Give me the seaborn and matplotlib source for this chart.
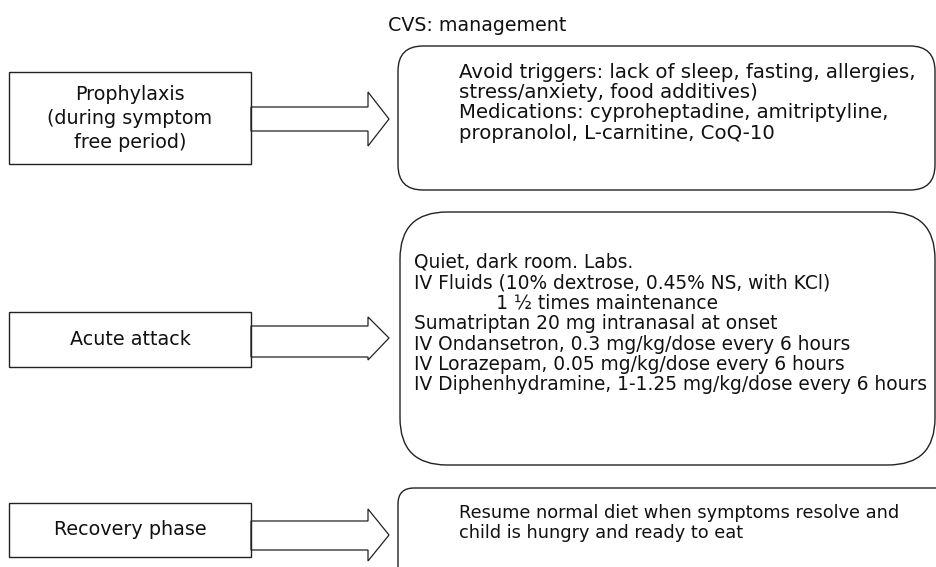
import matplotlib
matplotlib.use("Agg")
import matplotlib.pyplot as plt
from matplotlib.patches import FancyBboxPatch, Rectangle, Polygon
import seaborn as sns

# Chart content
title = "CVS: management"
phases = [
    ["Prophylaxis", "(during symptom", "free period)"],
    ["Acute attack"],
    ["Recovery phase"],
]
details = [
    ["Avoid triggers: lack of sleep, fasting, allergies,",
     "stress/anxiety, food additives)",
     "Medications: cyproheptadine, amitriptyline,",
     "propranolol, L-carnitine, CoQ-10"],
    ["Quiet, dark room. Labs.",
     "IV Fluids (10% dextrose, 0.45% NS, with KCl)",
     "              1 \u00bd times maintenance",
     "Sumatriptan 20 mg intranasal at onset",
     "IV Ondansetron, 0.3 mg/kg/dose every 6 hours",
     "IV Lorazepam, 0.05 mg/kg/dose every 6 hours",
     "IV Diphenhydramine, 1-1.25 mg/kg/dose every 6 hours"],
    ["Resume normal diet when symptoms resolve and",
     "child is hungry and ready to eat"],
]

# Layout (pixel space of the 936x567 figure)
left_boxes = [(9, 72, 242, 92), (9, 312, 242, 55), (9, 503, 242, 54)]
label_base = [100, 345, 535]
label_step = 24
right_boxes = [(398, 46, 537, 144, 25), (400, 212, 535, 253, 47), (398, 488, 560, 110, 16)]
arrows = [(107, 131, 92, 146, 119), (326, 357, 317, 360, 338), (521, 550, 509, 561, 535)]
text_pos = [(459, 78), (414, 268), (459, 518)]
text_step = [20.2, 20.4, 19.5]
text_size = [14.25, 13.45, 12.8]

sns.set_theme(style="white")
plt.rcParams["font.family"] = ["DejaVu Sans"]

fig = plt.figure(figsize=(9.36, 5.67), dpi=100)
ax = fig.add_axes([0, 0, 1, 1])
ax.set_xlim(0, 936)
ax.set_ylim(567, 0)
ax.axis("off")

edge = "#222222"
ink = "#111111"
ax.text(388, 31, title, ha="left", va="baseline", fontsize=13.7, color=ink)

for i, label in enumerate(phases):
    x, y, w, h = left_boxes[i]
    ax.add_patch(Rectangle((x, y), w, h, fill=False, ec=edge, lw=1.0))
    for j, line in enumerate(label):
        ax.text(x + w / 2, label_base[i] + j * label_step, line, ha="center", va="baseline",
                fontsize=13.8, color=ink)

    s0, s1, h0, h1, tip = arrows[i]
    x0 = x + w
    xs = 368
    xt = 389
    ax.add_patch(Polygon([(x0, s0), (xs, s0), (xs, h0), (xt, tip), (xs, h1), (xs, s1), (x0, s1)],
                         closed=True, fill=False, ec=edge, lw=0.9))

    rx, ry, rw, rh, rr = right_boxes[i]
    ax.add_patch(FancyBboxPatch((rx, ry), rw, rh, boxstyle=f"round,pad=0,rounding_size={rr}",
                                fill=False, ec=edge, lw=1.0))

    tx, ty = text_pos[i]
    for j, line in enumerate(details[i]):
        ax.text(tx, ty + j * text_step[i], line, ha="left", va="baseline",
                fontsize=text_size[i], color=ink)

fig.savefig("out.png", dpi=100)
